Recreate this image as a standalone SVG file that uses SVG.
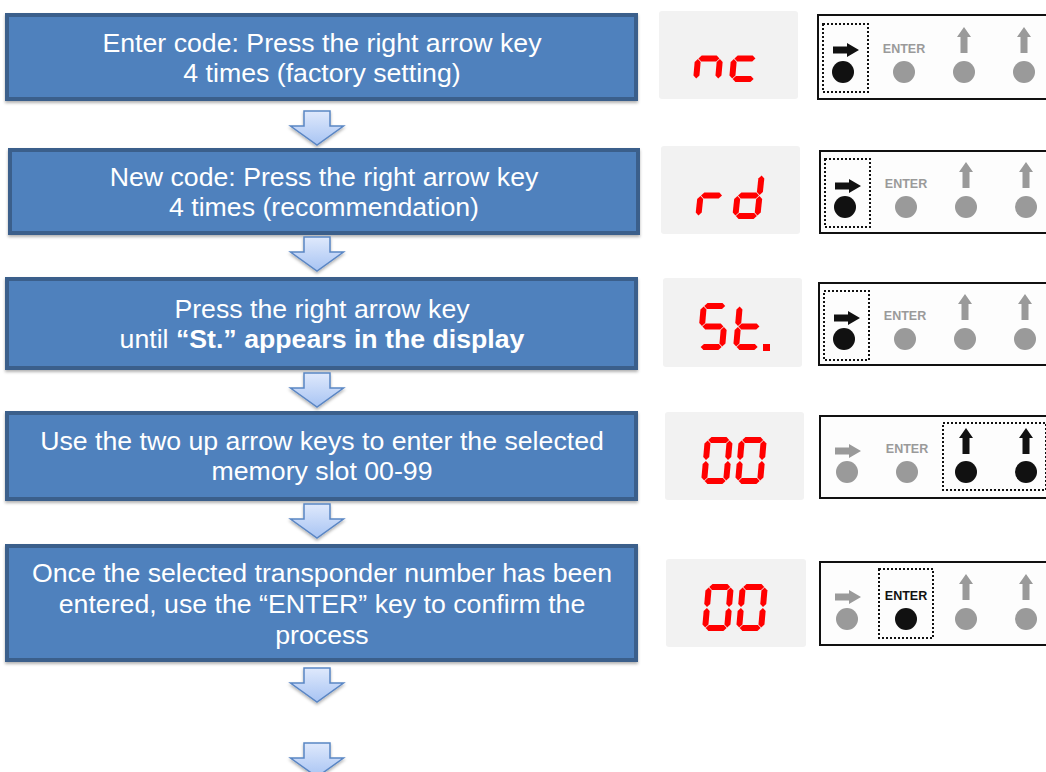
<svg xmlns="http://www.w3.org/2000/svg" xmlns:xlink="http://www.w3.org/1999/xlink" width="1046" height="772" viewBox="0 0 1046 772">
<style>
.box{fill:#4f81bd;stroke:#3a5f8b;stroke-width:4}
.bt{font-family:"Liberation Sans",Arial,sans-serif;font-size:26.7px;fill:#ffffff;text-anchor:middle}
.b{font-weight:bold}
.disp{fill:#f2f2f2}
.seg{fill:#ff0000}
.panel{fill:#fdfdfd;stroke:#111;stroke-width:2}
.on{fill:#111111}
.off{fill:#9a9a9a}
.ent{font-family:"Liberation Sans",Arial,sans-serif;font-size:12.5px;font-weight:bold;text-anchor:middle}
.sel{fill:none;stroke:#111;stroke-width:2;stroke-dasharray:2 2}
.down{fill:url(#dg);stroke:#5a86c4;stroke-width:1.5;stroke-linejoin:miter}
</style>
<defs>
<linearGradient id="dg" x1="0" y1="0" x2="0" y2="1">
<stop offset="0" stop-color="#dfe9fc"/>
<stop offset="1" stop-color="#a8c4f3"/>
</linearGradient>
<filter id="sh" x="-10%" y="-10%" width="120%" height="130%">
<feDropShadow dx="0" dy="2" stdDeviation="1.5" flood-color="#000" flood-opacity="0.3"/>
</filter>
<polygon id="sa" points="3.5,3 6.5,0 21.5,0 24.5,3 21.5,6 6.5,6"/>
<polygon id="sg" points="3.5,23.5 6.5,20.5 21.5,20.5 24.5,23.5 21.5,26.5 6.5,26.5"/>
<polygon id="sd" points="3.5,44 6.5,41 21.5,41 24.5,44 21.5,47 6.5,47"/>
<polygon id="sf" points="3,3.5 6,6.5 6,20 3,23 0,20 0,6.5"/>
<polygon id="se" points="3,24 6,27 6,40.5 3,43.5 0,40.5 0,27"/>
<polygon id="sb" points="25,3.5 28,6.5 28,20 25,23 22,20 22,6.5"/>
<polygon id="sc" points="25,24 28,27 28,40.5 25,43.5 22,40.5 22,27"/>
<path id="rarrow" d="M15,31.5 H29 V28 L41,35 L29,42 V38.5 H15 Z"/>
<path id="uarrow" d="M0,12 L7,22 H3.5 V38 H-3.5 V22 H-7 Z"/>
<path id="darrow" d="M-13,0 H13 V15 H26.5 L0,34 L-26.5,15 H-13 Z"/>
</defs>

<g id="step1">
<rect class="box" x="7" y="15" width="629" height="84" filter="url(#sh)"/>
<text class="bt" x="322" y="52">Enter code: Press the right arrow key</text>
<text class="bt" x="322" y="82">4 times (factory setting)</text>
</g>
<g id="step2">
<rect class="box" x="10" y="150" width="628" height="83" filter="url(#sh)"/>
<text class="bt" x="324" y="186">New code: Press the right arrow key</text>
<text class="bt" x="324" y="216">4 times (recommendation)</text>
</g>
<g id="step3">
<rect class="box" x="7" y="279" width="629" height="89" filter="url(#sh)"/>
<text class="bt" x="322" y="318">Press the right arrow key</text>
<text class="bt" x="322" y="348">until <tspan class="b">“St.” appears in the display</tspan></text>
</g>
<g id="step4">
<rect class="box" x="7" y="413" width="629" height="86" filter="url(#sh)"/>
<text class="bt" x="322" y="450">Use the two up arrow keys to enter the selected</text>
<text class="bt" x="322" y="480">memory slot 00-99</text>
</g>
<g id="step5">
<rect class="box" x="7" y="546" width="629" height="114" filter="url(#sh)"/>
<text class="bt" x="322" y="582">Once the selected transponder number has been</text>
<text class="bt" x="322" y="613">entered, use the “ENTER” key to confirm the</text>
<text class="bt" x="322" y="644">process</text>
</g>

<g id="connectors">
<use href="#darrow" class="down" transform="translate(317,111)" filter="url(#sh)"/>
<use href="#darrow" class="down" transform="translate(317,237)" filter="url(#sh)"/>
<use href="#darrow" class="down" transform="translate(317,373)" filter="url(#sh)"/>
<use href="#darrow" class="down" transform="translate(317,504)" filter="url(#sh)"/>
<use href="#darrow" class="down" transform="translate(317,668)" filter="url(#sh)"/>
<use href="#darrow" class="down" transform="translate(317,743)" filter="url(#sh)"/>
</g>

<g id="display1">
<rect class="disp" x="659" y="11" width="139" height="88" rx="3"/>
<g class="seg" transform="translate(697,35) skewX(-5)"><use href="#sg"/><use href="#se"/><use href="#sc"/></g>
<g class="seg" transform="translate(733,35) skewX(-5)"><use href="#sg"/><use href="#se"/><use href="#sd"/></g>
</g>
<g id="display2">
<rect class="disp" x="661" y="146" width="139" height="88" rx="3"/>
<g class="seg" transform="translate(700,172) skewX(-6)"><use href="#sg"/><use href="#se"/></g>
<g class="seg" transform="translate(737,172) skewX(-6)"><use href="#sb"/><use href="#sc"/><use href="#sd"/><use href="#se"/><use href="#sg"/></g>
</g>
<g id="display3">
<rect class="disp" x="663" y="278" width="139" height="89" rx="3"/>
<g class="seg" transform="translate(701,303) skewX(-5)"><use href="#sa"/><use href="#sf"/><use href="#sg"/><use href="#sc"/><use href="#sd"/></g>
<g class="seg" transform="translate(737,303) skewX(-5)"><use href="#sf"/><use href="#se"/><use href="#sg"/><use href="#sd"/></g>
<rect class="seg" x="763" y="344" width="7" height="7"/>
</g>
<g id="display4">
<rect class="disp" x="665" y="412" width="139" height="88" rx="3"/>
<g class="seg" transform="translate(705,437) skewX(-5)"><use href="#sa"/><use href="#sb"/><use href="#sc"/><use href="#sd"/><use href="#se"/><use href="#sf"/></g>
<g class="seg" transform="translate(739,437) skewX(-5)"><use href="#sa"/><use href="#sb"/><use href="#sc"/><use href="#sd"/><use href="#se"/><use href="#sf"/></g>
</g>
<g id="display5">
<rect class="disp" x="666" y="559" width="140" height="88" rx="3"/>
<g class="seg" transform="translate(706,584) skewX(-5)"><use href="#sa"/><use href="#sb"/><use href="#sc"/><use href="#sd"/><use href="#se"/><use href="#sf"/></g>
<g class="seg" transform="translate(740,584) skewX(-5)"><use href="#sa"/><use href="#sb"/><use href="#sc"/><use href="#sd"/><use href="#se"/><use href="#sf"/></g>
</g>

<g id="keypad1" transform="translate(818,15)">
<rect class="panel" x="0" y="0" width="240" height="84"/>
<use href="#rarrow" class="on"/>
<circle class="on" cx="25" cy="57" r="11"/>
<text class="ent off" x="86" y="38">ENTER</text>
<circle class="off" cx="86" cy="57" r="11"/>
<use href="#uarrow" class="off" transform="translate(146,0)"/>
<circle class="off" cx="146" cy="57" r="11"/>
<use href="#uarrow" class="off" transform="translate(206,0)"/>
<circle class="off" cx="206" cy="57" r="11"/>
<rect class="sel" x="5" y="9" width="45" height="68"/>
</g>
<g id="keypad2" transform="translate(820,151)">
<rect class="panel" x="0" y="0" width="240" height="82"/>
<use href="#rarrow" class="on"/>
<circle class="on" cx="25" cy="56" r="11"/>
<text class="ent off" x="86" y="37">ENTER</text>
<circle class="off" cx="86" cy="56" r="11"/>
<use href="#uarrow" class="off" transform="translate(146,-1)"/>
<circle class="off" cx="146" cy="56" r="11"/>
<use href="#uarrow" class="off" transform="translate(206,-1)"/>
<circle class="off" cx="206" cy="56" r="11"/>
<rect class="sel" x="5" y="8" width="45" height="68"/>
</g>
<g id="keypad3" transform="translate(819,283)">
<rect class="panel" x="0" y="0" width="240" height="82"/>
<use href="#rarrow" class="on"/>
<circle class="on" cx="25" cy="56" r="11"/>
<text class="ent off" x="86" y="37">ENTER</text>
<circle class="off" cx="86" cy="56" r="11"/>
<use href="#uarrow" class="off" transform="translate(146,-1)"/>
<circle class="off" cx="146" cy="56" r="11"/>
<use href="#uarrow" class="off" transform="translate(206,-1)"/>
<circle class="off" cx="206" cy="56" r="11"/>
<rect class="sel" x="5" y="8" width="45" height="69"/>
</g>
<g id="keypad4" transform="translate(820,416)">
<rect class="panel" x="0" y="0" width="240" height="82"/>
<use href="#rarrow" class="off"/>
<circle class="off" cx="27" cy="56" r="11"/>
<text class="ent off" x="87" y="37">ENTER</text>
<circle class="off" cx="87" cy="56" r="11"/>
<use href="#uarrow" class="on" transform="translate(146,0)"/>
<circle class="on" cx="146" cy="56" r="11"/>
<use href="#uarrow" class="on" transform="translate(206,0)"/>
<circle class="on" cx="206" cy="56" r="11"/>
<rect class="sel" x="123" y="7" width="103" height="67"/>
</g>
<g id="keypad5" transform="translate(820,562)">
<rect class="panel" x="0" y="0" width="240" height="83"/>
<use href="#rarrow" class="off"/>
<circle class="off" cx="27" cy="57" r="11"/>
<text class="ent on" x="86" y="38">ENTER</text>
<circle class="on" cx="86" cy="57" r="11"/>
<use href="#uarrow" class="off" transform="translate(146,0)"/>
<circle class="off" cx="146" cy="57" r="11"/>
<use href="#uarrow" class="off" transform="translate(206,0)"/>
<circle class="off" cx="206" cy="57" r="11"/>
<rect class="sel" x="59" y="7" width="54" height="69"/>
</g>
</svg>
